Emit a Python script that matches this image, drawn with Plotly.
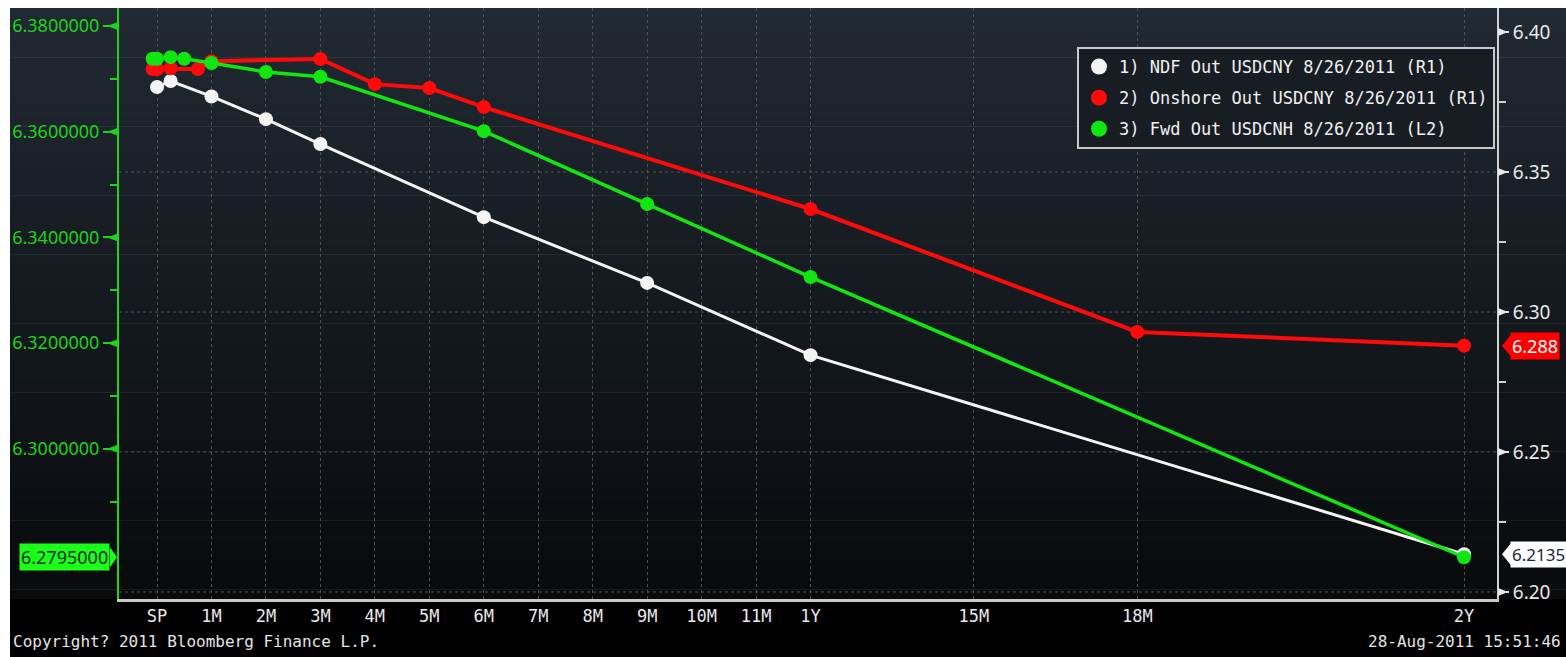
import plotly.graph_objects as go

# ---------------- data ----------------
tick_months = [0, 1, 2, 3, 4, 5, 6, 7, 8, 9, 10, 11, 12, 15, 18, 24]
tick_labels = ["SP", "1M", "2M", "3M", "4M", "5M", "6M", "7M", "8M", "9M",
               "10M", "11M", "1Y", "15M", "18M", "2Y"]

ndf_months = [0, 0.25, 1, 2, 3, 6, 9, 12, 24]
ndf_values = [6.3804, 6.3825, 6.3770, 6.3689, 6.3600, 6.3339, 6.3104, 6.2846, 6.2135]

onshore_months = [-0.08, 0, 0.25, 0.75, 1, 3, 4, 5, 6, 12, 18, 24]
onshore_values = [6.3868, 6.3868, 6.3871, 6.3868, 6.3896, 6.3904, 6.3814, 6.3800,
                  6.3732, 6.3368, 6.2929, 6.2880]

fwd_months = [-0.08, 0, 0.25, 0.5, 1, 2, 3, 6, 9, 12, 24]
fwd_values = [6.3738, 6.3738, 6.3741, 6.3738, 6.3730, 6.3713, 6.3704, 6.3601,
              6.3463, 6.3325, 6.2795]

series_names = ["1) NDF Out USDCNY 8/26/2011 (R1)",
                "2) Onshore Out USDCNY 8/26/2011 (R1)",
                "3) Fwd Out USDCNH 8/26/2011 (L2)"]

left_ticks = [6.30, 6.32, 6.34, 6.36, 6.38]
left_minor = [6.29, 6.31, 6.33, 6.35, 6.37]
right_ticks = [6.20, 6.25, 6.30, 6.35, 6.40]
right_minor = [6.225, 6.275, 6.325, 6.375]
grid_levels = [6.20, 6.25, 6.30, 6.35]

last_ndf = "6.2135"
last_onshore = "6.288"
last_fwd = "6.2795000"

# ---------------- layout geometry ----------------
W, H = 1566, 657
L, R, T, B = 119, 1497, 8, 599
XR = [-0.698, 24.605]
YL = [6.2716, 6.3834]   # left axis (L2)
YR = [6.1975, 6.4086]   # right axis (R1)


def px(x):
    return (x - L) / (R - L)


def py(y):
    return (B - y) / (B - T)


WHITE = "#f4f4f4"
RED = "#ff0a0a"
GREEN = "#12e612"
AXGREEN = "#1ed21e"
MONO = "DejaVu Sans Mono, Liberation Mono, monospace"
SANS = "Noto Sans, Open Sans, Liberation Sans, sans-serif"

fig = go.Figure()

# real series (no legend)
fig.add_trace(go.Scatter(x=ndf_months, y=ndf_values, mode="lines+markers",
                         line=dict(color=WHITE, width=3),
                         marker=dict(color=WHITE, size=14),
                         yaxis="y", showlegend=False, cliponaxis=False))
fig.add_trace(go.Scatter(x=onshore_months, y=onshore_values, mode="lines+markers",
                         line=dict(color=RED, width=4),
                         marker=dict(color=RED, size=14),
                         yaxis="y", showlegend=False, cliponaxis=False))
fig.add_trace(go.Scatter(x=fwd_months, y=fwd_values, mode="lines+markers",
                         line=dict(color=GREEN, width=3.5),
                         marker=dict(color=GREEN, size=14),
                         yaxis="y2", showlegend=False, cliponaxis=False))

# legend entries
for i, (name, col) in enumerate(zip(series_names, [WHITE, RED, GREEN])):
    fig.add_trace(go.Scatter(x=[None], y=[None], mode="markers", name=name,
                             legendgroup="g%d" % i,
                             marker=dict(color=col, size=22), showlegend=True))

shapes = []
# background: white border left/top is paper colour; dark gradient panel
n = 60
top_c = (33, 41, 50)
bot_c = (8, 10, 12)
for i in range(n):
    y0 = T + (B - T) * i / n
    y1 = T + (B - T) * (i + 1) / n
    f = (i + 0.5) / n
    c = tuple(int(round(top_c[k] + (bot_c[k] - top_c[k]) * f)) for k in range(3))
    shapes.append(dict(type="rect", xref="paper", yref="paper", layer="below",
                       x0=px(10), x1=px(W + 2), y0=py(y1 + 0.6), y1=py(y0),
                       line=dict(width=0), fillcolor="rgb(%d,%d,%d)" % c))
shapes.append(dict(type="rect", xref="paper", yref="paper", layer="below",
                   x0=px(10), x1=px(W + 2), y0=py(H + 2), y1=py(B),
                   line=dict(width=0), fillcolor="#000000"))

# horizontal dotted grid on the R1 scale
for v in grid_levels:
    shapes.append(dict(type="line", xref="paper", yref="y", layer="below",
                       x0=0, x1=1, y0=v, y1=v,
                       line=dict(color="#505050", width=1, dash="dot")))

# left axis tick arrows
hl = 4 * (YL[1] - YL[0]) / (B - T)
for v in left_ticks:
    shapes.append(dict(type="path", xref="paper", yref="y2",
                       path="M %f,%f L %f,%f L %f,%f Z" % (px(107), v, px(118), v + hl, px(118), v - hl),
                       fillcolor=AXGREEN, line=dict(width=0)))
hr = 4 * (YR[1] - YR[0]) / (B - T)
for v in right_ticks:
    shapes.append(dict(type="path", xref="paper", yref="y",
                       path="M %f,%f L %f,%f L %f,%f Z" % (px(1508), v, px(1498), v + hr, px(1498), v - hr),
                       fillcolor="#e8e8e8", line=dict(width=0)))

# last value tags pointers
hg = 10 * (YL[1] - YL[0]) / (B - T)
fv = float(last_fwd)
shapes.append(dict(type="path", xref="paper", yref="y2",
                   path="M %f,%f L %f,%f L %f,%f Z" % (px(110), fv + hg, px(117), fv, px(110), fv - hg),
                   fillcolor="#1aff1a", line=dict(width=0)))
hw = 11 * (YR[1] - YR[0]) / (B - T)
for val, col in [(last_onshore, "#ff0000"), (last_ndf, "#ffffff")]:
    v = float(val)
    shapes.append(dict(type="path", xref="paper", yref="y",
                       path="M %f,%f L %f,%f L %f,%f Z" % (px(1511), v + hw, px(1502), v, px(1511), v - hw),
                       fillcolor=col, line=dict(width=0)))

annotations = [
    dict(text=last_fwd, xref="paper", yref="y2", x=px(110), y=fv, xanchor="right",
         yanchor="middle", showarrow=False, bgcolor="#1aff1a", borderpad=1,
         font=dict(family=SANS, size=18, color="#0a2a0a")),
    dict(text=last_onshore, xref="paper", yref="y", x=px(1510), y=float(last_onshore),
         xanchor="left", yanchor="middle", showarrow=False, bgcolor="#ff0000", borderpad=1,
         font=dict(family=SANS, size=18, color="#ffffff")),
    dict(text=last_ndf, xref="paper", yref="y", x=px(1510), y=float(last_ndf),
         xanchor="left", yanchor="middle", showarrow=False, bgcolor="#ffffff", borderpad=1,
         font=dict(family=SANS, size=17, color="#1a2340")),
    dict(text="Copyright? 2011 Bloomberg Finance L.P.", xref="paper", yref="paper",
         x=px(11), y=py(641), xanchor="left", yanchor="middle", showarrow=False,
         font=dict(family=MONO, size=16, color="#e4e4e4")),
    dict(text="28-Aug-2011 15:51:46", xref="paper", yref="paper",
         x=px(1563), y=py(641), xanchor="right", yanchor="middle", showarrow=False,
         font=dict(family=MONO, size=16, color="#e4e4e4")),
]

fig.update_layout(
    width=W, height=H,
    margin=dict(l=L, r=W - R, t=T, b=H - B, pad=0),
    paper_bgcolor="#ffffff",
    plot_bgcolor="rgba(0,0,0,0)",
    shapes=shapes,
    annotations=annotations,
    xaxis=dict(range=XR, tickmode="array", tickvals=tick_months, ticktext=tick_labels,
               showgrid=True, gridcolor="#4e4e4e", griddash="dot", gridwidth=1,
               zeroline=False, showline=True, linecolor="#c8c8c8", linewidth=3,
               ticks="", tickfont=dict(family=MONO, size=17, color="#e8e8e8"),
               anchor="y"),
    yaxis=dict(range=YR, side="right", tickmode="array", tickvals=right_ticks,
               tickformat=".2f", showgrid=False, zeroline=False, showline=True,
               linecolor="#d0d0d0", linewidth=2, ticks="outside", ticklen=10,
               tickwidth=1.5, tickcolor="#e0e0e0",
               tickfont=dict(family=SANS, size=19, color="#e8e8e8"),
               minor=dict(tickmode="array", tickvals=right_minor, ticks="outside",
                          ticklen=7, tickwidth=1.5, tickcolor="#d0d0d0", showgrid=False)),
    yaxis2=dict(range=YL, side="left", overlaying="y", tickmode="array",
                tickvals=left_ticks, tickformat=".7f", showgrid=False, zeroline=False,
                showline=True, linecolor=AXGREEN, linewidth=2, ticks="outside",
                ticklen=14, tickwidth=1.5, tickcolor=AXGREEN,
                tickfont=dict(family=SANS, size=18, color=AXGREEN),
                minor=dict(tickmode="array", tickvals=left_minor, ticks="outside",
                           ticklen=7, tickwidth=1.5, tickcolor=AXGREEN, showgrid=False)),
    legend=dict(x=px(1495), xanchor="right", y=py(47), yanchor="top",
                bgcolor="#181d23", bordercolor="#c8c8c8", borderwidth=2,
                font=dict(family=MONO, size=17, color="#f0f0f0"),
                itemwidth=30, traceorder="grouped", tracegroupgap=6),
    showlegend=True,
)

fig.write_html("out.html", post_script="document.body.style.margin='0';",
               config={"displayModeBar": False})
